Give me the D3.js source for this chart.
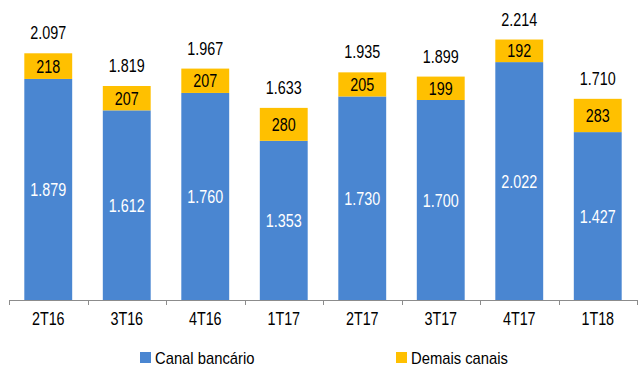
<!DOCTYPE html>
<html>
<head>
<meta charset="utf-8">
<script src="https://cdn.jsdelivr.net/npm/d3@7"></script>
<style>
  html, body { margin: 0; padding: 0; background: #fff; }
  svg { display: block; font-family: "Liberation Sans", Arial, sans-serif; }
</style>
</head>
<body>
<svg id="chart" width="638" height="369"></svg>
<script>
// Quarterly volumes by channel
const quarters = ["2T16", "3T16", "4T16", "1T17", "2T17", "3T17", "4T17", "1T18"];
const canalBancario = [1879, 1612, 1760, 1353, 1730, 1700, 2022, 1427];
const demaisCanais = [218, 207, 207, 280, 205, 199, 192, 283];
const seriesNames = ["Canal bancário", "Demais canais"];
const seriesColors = ["#4a86d1", "#ffc000"];

const locale = d3.formatLocale({ decimal: ",", thousands: ".", grouping: [3], currency: ["", ""] });
const fmt = locale.format(",d");

const rows = quarters.map((q, i) => ({ q, canal: canalBancario[i], demais: demaisCanais[i] }));
const stacked = d3.stack().keys(["canal", "demais"])(rows);

const svg = d3.select("#chart");
const baseY = 300;
const FS = 17.5;      // label font size
const SX = 0.82;      // horizontal squeeze for a narrow face

// Place text at (x, y) with a condensed horizontal scale
function place(sel, fx, fy, sx) {
  sel.attr("x", 0).attr("y", 0)
    .attr("transform", (d, i) => `translate(${fx(d, i)},${fy(d, i)}) scale(${sx},1)`);
}

const x = d3.scaleBand().domain(quarters).range([9, 637]).paddingInner(0.39).paddingOuter(0.195);
const y = d3.scaleLinear().domain([0, 2550]).range([baseY, 0]);

// Stacked bars
const layers = svg.append("g").selectAll("g").data(stacked).join("g")
  .attr("fill", (d, i) => seriesColors[i]);

layers.selectAll("rect").data(d => d).join("rect")
  .attr("x", d => x(d.data.q))
  .attr("width", x.bandwidth())
  .attr("y", d => y(d[1]))
  .attr("height", d => y(d[0]) - y(d[1]));

// Segment value labels
layers.each(function (layer, li) {
  d3.select(this).selectAll("text").data(layer).join("text")
    .call(place,
      d => x(d.data.q) + x.bandwidth() / 2,
      d => (y(d[0]) + y(d[1])) / 2 + 6.5, SX)
    .attr("text-anchor", "middle")
    .attr("font-size", FS)
    .attr("fill", li === 0 ? "#ffffff" : "#000000")
    .text(d => fmt(d[1] - d[0]));
});

// Totals above bars
svg.append("g").selectAll("text").data(rows).join("text")
  .call(place,
    d => x(d.q) + x.bandwidth() / 2,
    d => y(d.canal + d.demais) - 14, SX)
  .attr("text-anchor", "middle")
  .attr("font-size", FS)
  .attr("fill", "#000")
  .text(d => fmt(d.canal + d.demais));

// Category axis with ticks at boundaries
const axis = svg.append("g");
const [r0, r1] = x.range();
axis.append("line")
  .attr("x1", r0).attr("x2", r1)
  .attr("y1", baseY + 0.5).attr("y2", baseY + 0.5)
  .attr("stroke", "#8c8c8c").attr("stroke-width", 1);
const bounds = quarters.map(q => x(q) - x.step() * x.paddingInner() / 2).concat([r1]);
bounds[0] = r0;
axis.selectAll("line.tick").data(bounds).join("line")
  .attr("class", "tick")
  .attr("x1", d => Math.round(d) + 0.5).attr("x2", d => Math.round(d) + 0.5)
  .attr("y1", baseY).attr("y2", baseY + 5)
  .attr("stroke", "#8c8c8c");
axis.selectAll("text").data(quarters).join("text")
  .call(place, d => x(d) + x.bandwidth() / 2, () => baseY + 25, SX)
  .attr("text-anchor", "middle")
  .attr("font-size", FS)
  .attr("fill", "#000")
  .text(d => d);

// Legend
const legendX = [140, 396];
const legend = svg.append("g").selectAll("g").data(seriesNames).join("g")
  .attr("transform", (d, i) => `translate(${legendX[i]},352)`);
legend.append("rect").attr("width", 11).attr("height", 11)
  .attr("fill", (d, i) => seriesColors[i]);
legend.append("text")
  .call(place, () => 15, () => 12, 0.87)
  .attr("font-size", 17).attr("fill", "#000")
  .text(d => d);
</script>
</body>
</html>
